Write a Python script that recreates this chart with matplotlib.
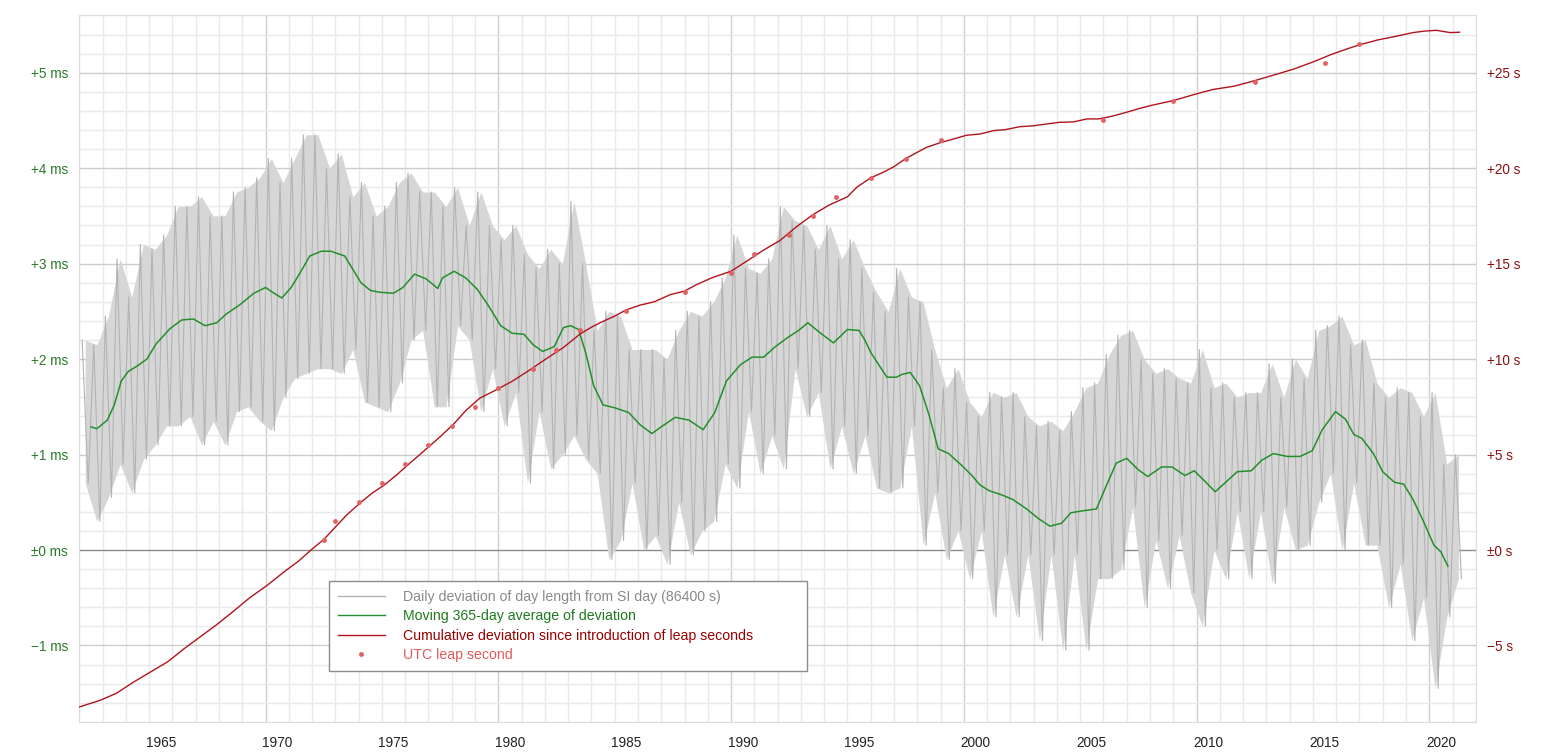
import numpy as np
import matplotlib
matplotlib.use('Agg')
import matplotlib.pyplot as plt
from matplotlib.lines import Line2D

plt.rcParams['font.family'] = ['Liberation Sans', 'DejaVu Sans']

# daily deviation (ms), read as max / min per half year starting at 1962.0
gray_start = 1962.0
gray_hi = [2.2, 2.15, 2.45, 3.05, 2.65, 3.2, 3.15, 3.3, 3.6, 3.6,
           3.7, 3.5, 3.5, 3.75, 3.8, 3.9, 4.1, 3.85, 4.1, 4.35,
           4.35, 4.0, 4.15, 3.7, 3.85, 3.5, 3.6, 3.85, 3.95, 3.75,
           3.75, 3.6, 3.8, 3.4, 3.75, 3.4, 3.25, 3.4, 3.1, 2.95,
           3.15, 3.0, 3.65, 3.0, 2.3, 2.5, 2.45, 2.1, 2.1, 2.1,
           2.0, 2.3, 2.5, 2.45, 2.6, 2.85, 3.3, 2.95, 2.9, 3.05,
           3.6, 3.45, 3.4, 3.15, 3.4, 3.05, 3.25, 2.95, 2.7, 2.5,
           2.95, 2.65, 2.6, 2.1, 1.7, 1.9, 1.55, 1.4, 1.65, 1.6,
           1.65, 1.4, 1.3, 1.35, 1.25, 1.45, 1.7, 1.75, 2.05, 2.25,
           2.3, 2.0, 1.85, 1.9, 1.8, 1.75, 2.1, 1.7, 1.75, 1.6,
           1.65, 1.65, 1.95, 1.6, 2.0, 1.8, 2.3, 2.35, 2.45, 2.15,
           2.2, 1.75, 1.6, 1.7, 1.65, 1.4, 1.65, 0.9, 1.0]
gray_lo = [0.7, 0.3, 0.55, 0.9, 0.6, 0.95, 1.1, 1.3, 1.3, 1.4,
           1.1, 1.35, 1.1, 1.45, 1.5, 1.35, 1.25, 1.6, 1.8, 1.85,
           1.9, 1.9, 1.85, 2.1, 1.55, 1.5, 1.45, 1.75, 2.2, 2.3,
           1.5, 1.5, 2.35, 2.2, 1.45, 1.9, 1.3, 1.65, 0.7, 1.45,
           0.85, 1.0, 1.2, 0.95, 0.8, -0.1, 0.1, 0.7, 0.0, 0.15,
           -0.15, 0.5, -0.05, 0.2, 0.3, 0.9, 0.65, 1.45, 0.8, 1.2,
           0.85, 1.9, 1.4, 1.65, 0.85, 1.3, 0.8, 1.2, 0.65, 0.6,
           0.65, 1.3, 0.05, 0.6, -0.1, 0.2, -0.3, 0.2, -0.7, -0.05,
           -0.7, -0.05, -0.95, -0.05, -1.05, -0.05, -1.05, -0.3, -0.3, -0.2,
           0.45, -0.6, 0.1, -0.4, 0.15, -0.45, -0.8, 0.0, -0.3, 0.4,
           -0.3, 0.4, -0.35, 0.45, 0.0, 0.05, 0.5, 0.8, 0.0, 0.7,
           0.05, 0.05, -0.6, -0.15, -0.95, -0.5, -1.45, -0.7, -0.3]

# moving 365-day average (ms)
green_years = [1962.5, 1962.75, 1963.2, 1963.5, 1963.8, 1964.1, 1964.5, 1964.9, 1965.3, 1965.9,
               1966.4, 1966.9, 1967.4, 1967.9, 1968.3, 1968.9, 1969.5, 1970.0, 1970.3, 1970.7,
               1971.1, 1971.5, 1971.9, 1972.4, 1972.8, 1973.4, 1973.6, 1974.1, 1974.5, 1974.9,
               1975.5, 1975.9, 1976.4, 1976.9, 1977.4, 1977.6, 1978.1, 1978.6, 1979.1, 1979.6,
               1980.1, 1980.6, 1981.1, 1981.5, 1981.9, 1982.4, 1982.8, 1983.1, 1983.45, 1983.75,
               1984.1, 1984.5, 1985.0, 1985.6, 1986.1, 1986.6, 1987.0, 1987.6, 1988.2, 1988.8,
               1989.3, 1989.8, 1990.4, 1990.9, 1991.4, 1991.9, 1992.4, 1992.9, 1993.3, 1993.8,
               1994.4, 1995.0, 1995.5, 1995.75, 1996.0, 1996.4, 1996.7, 1997.1, 1997.35, 1997.7,
               1998.1, 1998.5, 1998.9, 1999.35, 1999.85, 2000.35, 2000.7, 2001.1, 2001.6, 2002.1,
               2002.7, 2003.2, 2003.7, 2004.2, 2004.6, 2005.1, 2005.7, 2006.1, 2006.55, 2007.0,
               2007.5, 2007.9, 2008.5, 2008.95, 2009.5, 2009.9, 2010.4, 2010.8, 2011.3, 2011.75,
               2012.35, 2012.8, 2013.3, 2013.9, 2014.45, 2014.97, 2015.4, 2015.97, 2016.4, 2016.76,
               2017.1, 2017.6, 2018.0, 2018.5, 2018.9, 2019.3, 2019.75, 2020.2, 2020.5, 2020.8]
green_ms = [1.29, 1.27, 1.36, 1.52, 1.77, 1.87, 1.93, 2.0, 2.16, 2.32,
            2.41, 2.42, 2.35, 2.38, 2.47, 2.57, 2.69, 2.75, 2.70, 2.64,
            2.75, 2.91, 3.08, 3.13, 3.13, 3.08, 3.0, 2.80, 2.72, 2.70,
            2.69, 2.75, 2.89, 2.84, 2.74, 2.85, 2.92, 2.85, 2.73, 2.55,
            2.35, 2.27, 2.26, 2.15, 2.08, 2.13, 2.33, 2.35, 2.31, 2.07,
            1.72, 1.52, 1.49, 1.44, 1.31, 1.22, 1.29, 1.39, 1.36, 1.26,
            1.44, 1.77, 1.94, 2.02, 2.02, 2.13, 2.22, 2.30, 2.38, 2.28,
            2.17, 2.31, 2.30, 2.20, 2.07, 1.92, 1.81, 1.81, 1.84, 1.86,
            1.72, 1.42, 1.06, 1.01, 0.90, 0.78, 0.68, 0.62, 0.58, 0.53,
            0.43, 0.33, 0.25, 0.28, 0.39, 0.41, 0.43, 0.66, 0.91, 0.96,
            0.84, 0.77, 0.87, 0.87, 0.78, 0.83, 0.71, 0.61, 0.72, 0.82,
            0.83, 0.94, 1.01, 0.98, 0.98, 1.04, 1.26, 1.45, 1.37, 1.21,
            1.17, 1.01, 0.82, 0.71, 0.69, 0.53, 0.30, 0.05, -0.02, -0.17]

# cumulative deviation (s)
red_years = [1962.0, 1962.9, 1963.6, 1964.3, 1965.0, 1965.8, 1966.5, 1967.2, 1967.9, 1968.6,
             1969.3, 1970.1, 1970.8, 1971.4, 1972.0, 1972.5, 1973.0, 1973.5, 1974.1, 1974.6,
             1975.1, 1975.6, 1976.2, 1976.8, 1977.5, 1978.1, 1978.6, 1979.2, 1979.9, 1980.6,
             1981.4, 1982.1, 1982.8, 1983.5, 1984.0, 1984.4, 1985.0, 1985.5, 1986.1, 1986.7,
             1987.4, 1988.0, 1988.5, 1989.2, 1990.0, 1990.7, 1991.4, 1992.1, 1992.8, 1993.5,
             1994.2, 1995.0, 1995.4, 1996.0, 1996.6, 1997.0, 1997.5, 1998.0, 1998.4, 1999.0,
             1999.6, 2000.1, 2000.7, 2001.3, 2001.8, 2002.4, 2003.0, 2003.6, 2004.1, 2004.7,
             2005.3, 2005.8, 2006.4, 2007.0, 2007.5, 2008.1, 2009.0, 2009.9, 2010.7, 2011.6,
             2012.4, 2013.3, 2014.2, 2015.0, 2015.8, 2016.5, 2017.0, 2017.8, 2018.5, 2019.3,
             2019.8, 2020.3, 2020.9, 2021.3]
red_s = [-8.22, -7.87, -7.50, -6.94, -6.43, -5.85, -5.17, -4.54, -3.91, -3.23,
         -2.52, -1.82, -1.14, -0.6, 0.05, 0.55, 1.2, 1.85, 2.5, 3.0,
         3.4, 3.9, 4.55, 5.18, 5.93, 6.62, 7.3, 7.95, 8.38, 8.84,
         9.47, 10.05, 10.61, 11.3, 11.67, 11.92, 12.25, 12.58, 12.83, 13.0,
         13.38, 13.56, 13.89, 14.27, 14.6, 15.15, 15.71, 16.21, 16.92, 17.55,
         18.06, 18.5, 19.0, 19.49, 19.82, 20.08, 20.5, 20.83, 21.09, 21.34,
         21.54, 21.72, 21.79, 21.97, 22.02, 22.17, 22.22, 22.32, 22.40, 22.42,
         22.58, 22.58, 22.73, 22.93, 23.11, 23.3, 23.54, 23.86, 24.12, 24.29,
         24.55, 24.87, 25.2, 25.56, 25.96, 26.26, 26.46, 26.72, 26.89, 27.1,
         27.18, 27.22, 27.1, 27.12]

# UTC leap seconds
leap_years = [1972.5, 1973.0, 1974.0, 1975.0, 1976.0, 1977.0, 1978.0, 1979.0, 1980.0,
              1981.5, 1982.5, 1983.5, 1985.5, 1988.0, 1990.0, 1991.0, 1992.5, 1993.5,
              1994.5, 1996.0, 1997.5, 1999.0, 2006.0, 2009.0, 2012.5, 2015.5, 2017.0]
leap_s = [0.5, 1.5, 2.5, 3.5, 4.5, 5.5, 6.5, 7.5, 8.5,
          9.5, 10.5, 11.5, 12.5, 13.5, 14.5, 15.5, 16.5, 17.5,
          18.5, 19.5, 20.5, 21.5, 22.5, 23.5, 24.5, 25.5, 26.5]

ms_ticks = [-1, 0, 1, 2, 3, 4, 5]
ms_labels = ['\u22121 ms', '\u00b10 ms', '+1 ms', '+2 ms', '+3 ms', '+4 ms', '+5 ms']
s_ticks = [-5, 0, 5, 10, 15, 20, 25]
s_labels = ['\u22125 s', '\u00b10 s', '+5 s', '+10 s', '+15 s', '+20 s', '+25 s']
year_labels = [1965, 1970, 1975, 1980, 1985, 1990, 1995, 2000, 2005, 2010, 2015, 2020]

GRAY = '#b3b3b3'
GREEN = '#22902a'
RED = '#b0141e'
DOT = '#e06262'

fig = plt.figure(figsize=(15.47, 7.56), dpi=100)
ax = fig.add_axes([0.0513, 0.0452, 0.9027, 0.9344])
ax.set_xlim(1962.0, 2022.0)
ax.set_ylim(-1.8, 5.6)

# grid
for yr in range(1962, 2023):
    c = '#cfcfcf' if yr % 10 == 0 else '#eaeaea'
    ax.axvline(yr, color=c, lw=1.0, zorder=0)
for k in range(-9, 29):
    val = k * 0.2
    if k == 0:
        c = '#8a8a8a'
    elif k % 5 == 0:
        c = '#cccccc'
    else:
        c = '#eaeaea'
    ax.axhline(val, color=c, lw=1.0, zorder=0.5 if k == 0 else 0)

# daily deviation band
half = gray_start + 0.5 * np.arange(len(gray_hi))
ax.fill_between(half + 0.25, gray_lo, gray_hi, color='#d6d6d6', lw=0, zorder=1)
zx = np.column_stack([half + 0.12, half + 0.38]).ravel()
zy = np.column_stack([gray_hi, gray_lo]).ravel()
ax.plot(zx, zy, color=GRAY, lw=0.8, zorder=2)

ax.plot(green_years, green_ms, color=GREEN, lw=1.1, zorder=3)

ax.set_yticks(ms_ticks)
ax.set_yticklabels(ms_labels)
ax.set_xticks([y + 0.5 for y in year_labels])
ax.set_xticklabels([str(y) for y in year_labels])
ax.tick_params(axis='y', length=0, pad=8, labelsize=9.8, labelcolor='#2a7a2a')
ax.tick_params(axis='x', length=0, pad=10, labelsize=9.8, labelcolor='#222222')
for sp in ax.spines.values():
    sp.set_color('#dddddd')

ax2 = ax.twinx()
ax2.set_ylim(-9.0, 28.0)
ax2.plot(red_years, red_s, color=RED, lw=1.0, zorder=4)
ax2.plot(leap_years, leap_s, 'o', color=DOT, ms=3.5, mec='none', zorder=5)
ax2.set_yticks(s_ticks)
ax2.set_yticklabels(s_labels)
ax2.tick_params(axis='y', length=0, pad=8, labelsize=9.8, labelcolor='#8b1010')
for sp in ax2.spines.values():
    sp.set_visible(False)

handles = [Line2D([], [], color=GRAY, lw=1.0),
           Line2D([], [], color=GREEN, lw=1.0),
           Line2D([], [], color=RED, lw=1.0),
           Line2D([], [], color=DOT, marker='o', ms=3.5, mec='none', lw=0)]
labels = ['Daily deviation of day length from SI day (86400 s)',
          'Moving 365-day average of deviation',
          'Cumulative deviation since introduction of leap seconds',
          'UTC leap second']
leg = ax2.legend(handles, labels, loc='lower left', bbox_to_anchor=(0.179, 0.072, 0.342, 0.124),
                 mode='expand', borderaxespad=0, fontsize=10.2, handlelength=3.3,
                 handletextpad=1.3, labelspacing=0.38, borderpad=0.62, fancybox=False,
                 framealpha=1.0, edgecolor='#8c8c8c')
leg.get_frame().set_linewidth(1.0)
for txt, c in zip(leg.get_texts(), ['#8a8a8a', '#1f7a1f', '#990000', '#e05a5a']):
    txt.set_color(c)

plt.savefig('out.png', dpi=100)
